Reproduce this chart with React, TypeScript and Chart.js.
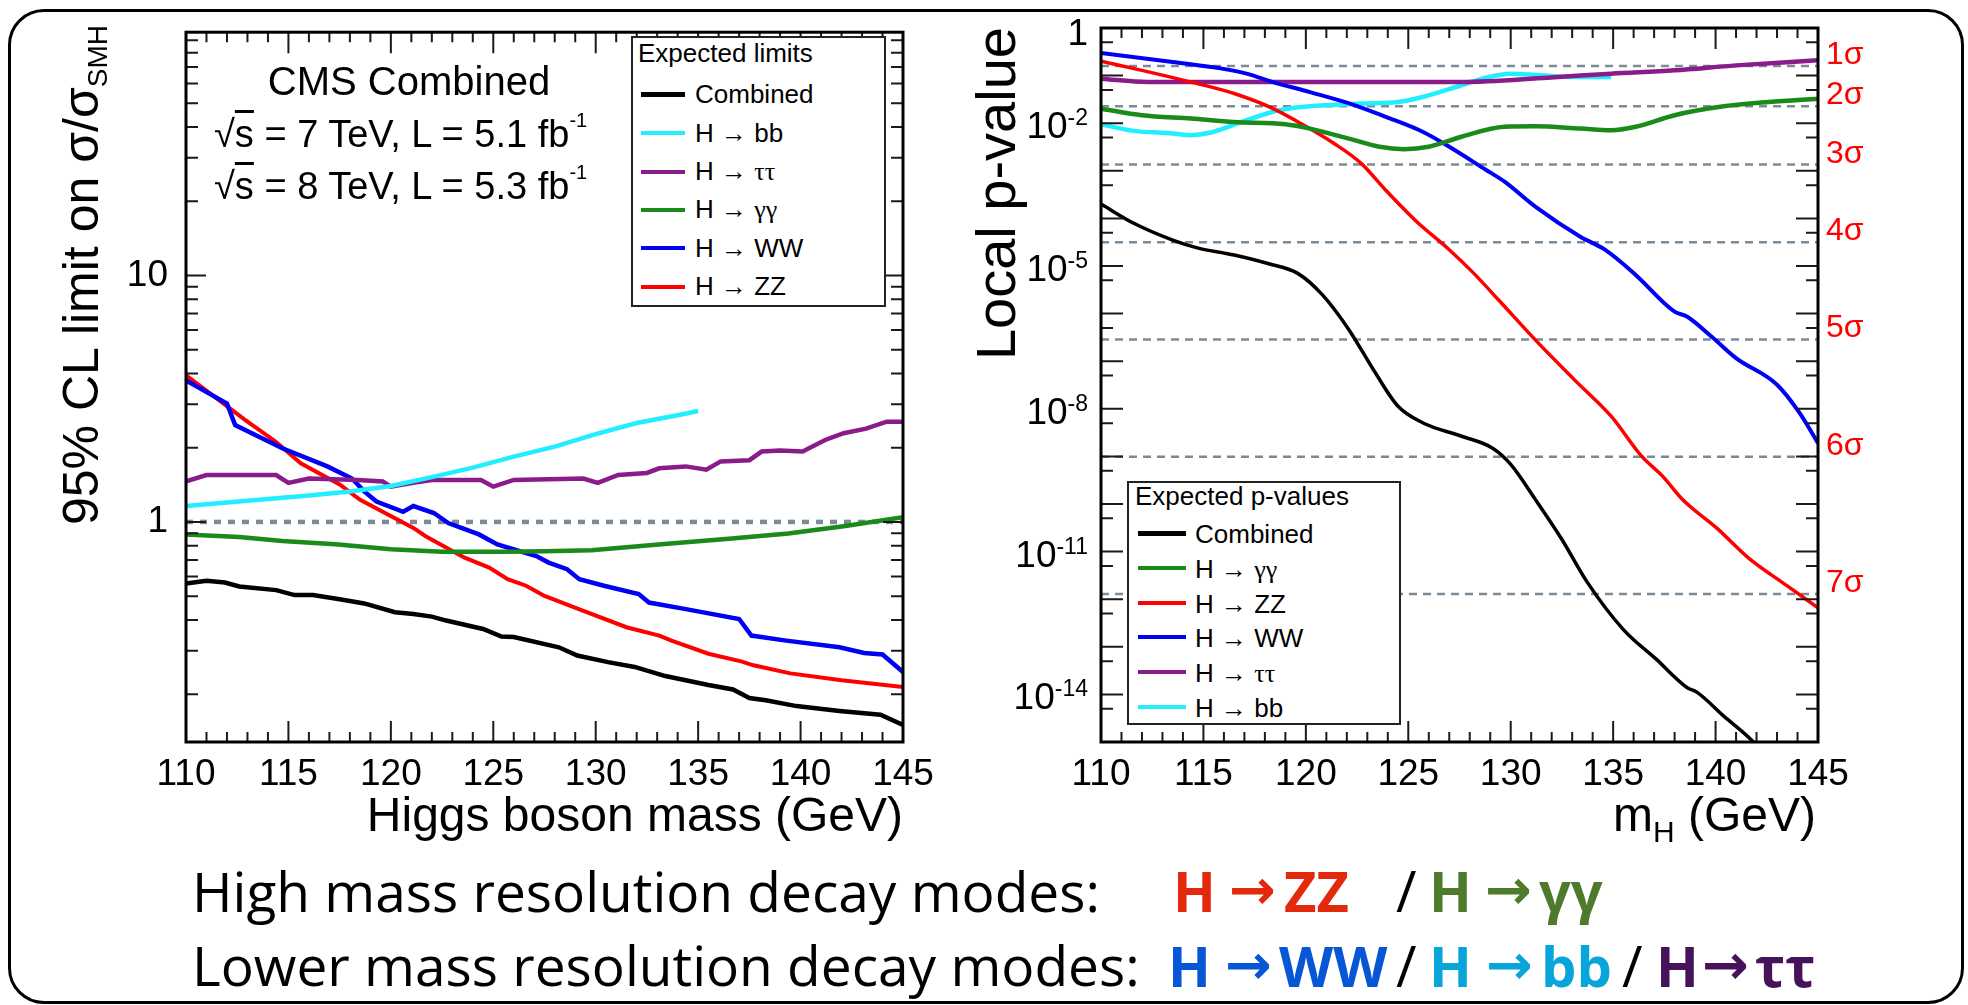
import React, { useEffect, useRef } from "react";
import { Chart, registerables } from "chart.js";
Chart.register(...registerables);

const FONT = "'Liberation Sans', Arial, Helvetica, sans-serif";
const SERIF = "'Liberation Serif', 'DejaVu Serif', serif";
const SLIDE = "'Open Sans', 'Noto Sans', sans-serif";
const ARROW = "'DejaVu Sans', sans-serif";

// ---------- shared x axis (Higgs boson mass, GeV) ----------
const massMin = 110;
const massMax = 145;
const massMajorTicks = [110, 115, 120, 125, 130, 135, 140, 145];
const massMinorTicks = [111, 112, 113, 114, 116, 117, 118, 119, 121, 122, 123, 124, 126, 127, 128, 129, 131, 132, 133, 134, 136, 137, 138, 139, 141, 142, 143, 144];

// ---------- left panel: expected 95% CL limits ----------
const limitAxisMin = 0.128;
const limitAxisMax = 97;
const limitMajorTicks = [1, 10];
const limitMinorTicks = [0.2, 0.3, 0.4, 0.5, 0.6, 0.7, 0.8, 0.9, 2, 3, 4, 5, 6, 7, 8, 9, 20, 30, 40, 50, 60, 70, 80, 90];
const smReferenceMass = [110, 145];
const smReference = [1, 1];

const limitCombinedMass = [110, 111, 111.9, 112.6, 114.4, 115.3, 116.2, 117.5, 118.7, 120.2, 121.1, 122, 122.7, 124.5, 125.4, 126, 128.2, 129.1, 130.6, 131.9, 133.4, 135.5, 136.7, 137.5, 138.3, 139.8, 141.9, 143.9, 145];
const limitCombined = [0.562, 0.577, 0.568, 0.547, 0.529, 0.505, 0.505, 0.486, 0.467, 0.43, 0.423, 0.413, 0.398, 0.368, 0.343, 0.341, 0.31, 0.287, 0.27, 0.258, 0.237, 0.218, 0.209, 0.193, 0.189, 0.179, 0.171, 0.165, 0.15];

const limitBBMass = [110, 112, 114, 116, 118, 120, 122, 124, 126, 128, 130, 132, 134, 135];
const limitBB = [1.16, 1.2, 1.24, 1.28, 1.33, 1.4, 1.52, 1.66, 1.84, 2.02, 2.27, 2.52, 2.71, 2.82];

const limitTTMass = [110, 111, 114.4, 115, 116, 118.4, 119.6, 120, 121.1, 122, 124.4, 125, 126, 129.4, 130.1, 131.1, 132.5, 133.1, 134.4, 135.4, 136.1, 137.5, 138.1, 139, 140.1, 141.2, 142.1, 143.2, 144.2, 145];
const limitTT = [1.46, 1.55, 1.55, 1.44, 1.5, 1.48, 1.46, 1.39, 1.44, 1.48, 1.48, 1.39, 1.48, 1.5, 1.44, 1.55, 1.58, 1.65, 1.68, 1.63, 1.76, 1.78, 1.93, 1.95, 1.93, 2.15, 2.29, 2.39, 2.55, 2.55];

const limitGGMass = [110, 112.6, 114.7, 117.3, 120, 122.5, 125.5, 127.5, 129.8, 131.5, 133.5, 136.5, 139.4, 142.1, 145];
const limitGG = [0.889, 0.868, 0.836, 0.811, 0.774, 0.757, 0.757, 0.76, 0.767, 0.79, 0.815, 0.855, 0.898, 0.961, 1.045];

const limitWWMass = [110, 112, 112.4, 114.7, 116.9, 118.1, 118.7, 119.3, 120.6, 121.1, 122.1, 122.8, 124.3, 125.2, 127.1, 127.7, 128.6, 129.2, 130.4, 132.1, 132.6, 134.4, 137, 137.6, 139.3, 141.9, 143.1, 144, 145];
const limitWW = [3.75, 3.02, 2.47, 1.99, 1.68, 1.5, 1.33, 1.21, 1.1, 1.16, 1.087, 0.99, 0.89, 0.81, 0.727, 0.684, 0.643, 0.586, 0.551, 0.51, 0.471, 0.443, 0.404, 0.346, 0.33, 0.31, 0.294, 0.29, 0.246];

const limitZZMass = [110, 111.3, 112.9, 114.4, 115.6, 117.5, 118.5, 119.6, 121.1, 121.7, 123.6, 124.8, 125.7, 126.6, 127.5, 129.4, 131.5, 133.1, 133.7, 135.5, 137.1, 137.7, 139.5, 142, 145];
const limitZZ = [3.93, 3.26, 2.59, 2.11, 1.73, 1.42, 1.23, 1.1, 0.946, 0.875, 0.716, 0.653, 0.586, 0.551, 0.501, 0.436, 0.374, 0.346, 0.33, 0.292, 0.272, 0.262, 0.243, 0.228, 0.214];

// ---------- right panel: expected local p-values ----------
const pAxisMin = 1e-15;
const pAxisMax = 1;
const pMajorTicks = [1, 1e-1, 1e-2, 1e-3, 1e-4, 1e-5, 1e-6, 1e-7, 1e-8, 1e-9, 1e-10, 1e-11, 1e-12, 1e-13, 1e-14, 1e-15];
const pMinorTicks = [5e-1, 5e-2, 5e-3, 5e-4, 5e-5, 5e-6, 5e-7, 5e-8, 5e-9, 5e-10, 5e-11, 5e-12, 5e-13, 5e-14, 5e-15];
const pLabelValues = [1, 1e-2, 1e-5, 1e-8, 1e-11, 1e-14];
const pLabelExponents = ["", "-2", "-5", "-8", "-11", "-14"];
const sigmaLabels = ["1σ", "2σ", "3σ", "4σ", "5σ", "6σ", "7σ"];
const sigmaPValues = [0.1587, 0.02275, 1.35e-3, 3.167e-5, 2.867e-7, 9.866e-10, 1.28e-12];

const pCombinedMass = [110, 111.6, 113.5, 114.7, 116.5, 118.1, 119.6, 120.8, 122.1, 123.3, 124.5, 125.7, 127.6, 129.1, 130, 131.2, 132.5, 133.7, 135.5, 137.1, 138.6, 139.1, 140.4, 141.8, 143, 145];
const pCombined = [2.0e-4, 7.9e-5, 3.5e-5, 2.4e-5, 1.7e-5, 1.14e-5, 7.0e-6, 2.5e-6, 4.6e-7, 6.6e-8, 1.13e-8, 5.1e-9, 2.65e-9, 1.5e-9, 6.8e-10, 1.25e-10, 1.8e-11, 2.4e-12, 2.3e-13, 5.5e-14, 1.4e-14, 1.1e-14, 3.5e-15, 1.05e-15, 2.5e-16, 2e-17];

const pGGMass = [110, 112, 114.4, 116.5, 119, 120.2, 122.1, 123.6, 124.8, 126, 127.6, 129.7, 131.2, 133.4, 134.9, 136.1, 138, 140.4, 142.6, 145];
const pGG = [0.0202, 0.0147, 0.0125, 0.0106, 9.5e-3, 7.7e-3, 4.75e-3, 3.2e-3, 2.85e-3, 3.2e-3, 5.2e-3, 8.4e-3, 8.6e-3, 7.7e-3, 7.1e-3, 8.4e-3, 0.0147, 0.0226, 0.0279, 0.0328];

const pZZMass = [110, 112, 114.4, 116.5, 118.4, 119.9, 121.4, 122.7, 123.9, 125.4, 127, 128.2, 129.4, 131.2, 133.1, 134.9, 136.4, 137.4, 138.4, 140.1, 141.6, 143.5, 145];
const pZZ = [0.2, 0.129, 0.073, 0.042, 0.0203, 9.1e-3, 3.7e-3, 1.43e-3, 3.9e-4, 8.6e-5, 2.2e-5, 7.0e-6, 1.95e-6, 2.8e-7, 4.1e-8, 7.0e-9, 1.0e-9, 3.9e-10, 1.23e-10, 3.0e-11, 7.4e-12, 1.9e-12, 6.6e-13];

const pWWMass = [110, 113.5, 115.9, 117.1, 118.4, 120.2, 122.4, 123.9, 125.7, 127, 128.8, 129.7, 131.2, 133.4, 134.6, 136.1, 138, 138.6, 139.8, 141, 143, 144.1, 145];
const pWW = [0.3, 0.193, 0.14, 0.11, 0.073, 0.045, 0.0238, 0.0136, 6.6e-3, 3.2e-3, 1.04e-3, 5.9e-4, 1.76e-4, 4.1e-5, 2.2e-5, 6.5e-6, 1.1e-6, 8.7e-7, 3.3e-7, 1.16e-7, 3.2e-8, 8.2e-9, 1.9e-9];

const pTTMass = [110, 112.3, 116.5, 122.7, 127.6, 131.8, 134.9, 138, 141, 145];
const pTT = [0.0863, 0.0735, 0.0735, 0.0735, 0.0735, 0.0906, 0.11, 0.129, 0.164, 0.21];

const pBBMass = [110, 111.6, 113.5, 114.4, 115.3, 117.1, 118.7, 120.2, 122.7, 124.5, 125.7, 127.6, 128.8, 130, 130.9, 132.8, 134.9];
const pBB = [9.5e-3, 6.9e-3, 6.1e-3, 5.6e-3, 6.3e-3, 0.0116, 0.0187, 0.0226, 0.0258, 0.0279, 0.0356, 0.0627, 0.0906, 0.11, 0.106, 0.0938, 0.0938];

// ---------- colours ----------
const C_COMB = "#000000";
const C_BB = "#22eeff";
const C_TT = "#8a1c8a";
const C_GG = "#1a8a1a";
const C_WW = "#0000f5";
const C_ZZ = "#ff0000";
const C_REF = "#7b8b97";

type Series = { label: string; color: string; width: number; mass: number[]; values: number[] };

const leftSeries: Series[] = [
  { label: "Combined", color: C_COMB, width: 4.5, mass: limitCombinedMass, values: limitCombined },
  { label: "H → bb", color: C_BB, width: 4.5, mass: limitBBMass, values: limitBB },
  { label: "H → ττ", color: C_TT, width: 4.5, mass: limitTTMass, values: limitTT },
  { label: "H → γγ", color: C_GG, width: 4.5, mass: limitGGMass, values: limitGG },
  { label: "H → WW", color: C_WW, width: 4.5, mass: limitWWMass, values: limitWW },
  { label: "H → ZZ", color: C_ZZ, width: 4, mass: limitZZMass, values: limitZZ },
];

const rightSeries: Series[] = [
  { label: "Combined", color: C_COMB, width: 3.5, mass: pCombinedMass, values: pCombined },
  { label: "H → γγ", color: C_GG, width: 4.5, mass: pGGMass, values: pGG },
  { label: "H → ZZ", color: C_ZZ, width: 3.5, mass: pZZMass, values: pZZ },
  { label: "H → WW", color: C_WW, width: 4, mass: pWWMass, values: pWW },
  { label: "H → ττ", color: C_TT, width: 4.5, mass: pTTMass, values: pTT },
  { label: "H → bb", color: C_BB, width: 4.5, mass: pBBMass, values: pBB },
];

const pts = (m: number[], v: number[]) => m.map((x, i) => ({ x, y: v[i] }));

type AxisCfg = {
  yMajor: number[];
  yMinor: number[];
  xMajorLen: number;
  xMinorLen: number;
  yMajorLen: number;
  yMinorLen: number;
  extra?: (chart: any) => void;
};

function rootAxesPlugin(cfg: AxisCfg) {
  return {
    id: "rootAxes",
    afterDatasetsDraw(chart: any) {
      const { ctx, chartArea: a } = chart;
      const xs = chart.scales.x;
      const ys = chart.scales.y;
      ctx.save();
      ctx.strokeStyle = "#1a1a1a";
      ctx.lineWidth = 2;
      ctx.beginPath();
      const xt = (vals: number[], len: number) => {
        for (const v of vals) {
          const p = xs.getPixelForValue(v);
          ctx.moveTo(p, a.bottom);
          ctx.lineTo(p, a.bottom - len);
          ctx.moveTo(p, a.top);
          ctx.lineTo(p, a.top + len);
        }
      };
      const yt = (vals: number[], len: number) => {
        for (const v of vals) {
          const p = ys.getPixelForValue(v);
          if (p < a.top - 0.5 || p > a.bottom + 0.5) continue;
          ctx.moveTo(a.left, p);
          ctx.lineTo(a.left + len, p);
          ctx.moveTo(a.right, p);
          ctx.lineTo(a.right - len, p);
        }
      };
      xt(massMajorTicks, cfg.xMajorLen);
      xt(massMinorTicks, cfg.xMinorLen);
      yt(cfg.yMajor, cfg.yMajorLen);
      yt(cfg.yMinor, cfg.yMinorLen);
      ctx.stroke();
      ctx.lineWidth = 3;
      ctx.strokeStyle = "#000";
      ctx.strokeRect(a.left, a.top, a.right - a.left, a.bottom - a.top);
      if (cfg.extra) cfg.extra(chart);
      ctx.restore();
    },
  };
}

function xScale() {
  return {
    type: "linear",
    min: massMin,
    max: massMax,
    grid: { display: false },
    border: { display: false },
    ticks: { font: { family: FONT, size: 37 }, color: "#000", padding: 3, maxRotation: 0, autoSkip: false },
    afterBuildTicks: (s: any) => {
      s.ticks = massMajorTicks.map((v) => ({ value: v }));
    },
    afterFit: (s: any) => {
      s.height = 60;
    },
  };
}

function leftConfig(): any {
  const datasets: any[] = leftSeries.map((s, i) => ({
    label: s.label,
    data: pts(s.mass, s.values),
    borderColor: s.color,
    borderWidth: s.width,
    pointRadius: 0,
    tension: 0,
    order: i + 1,
  }));
  datasets.push({
    label: "SM",
    data: pts(smReferenceMass, smReference),
    borderColor: C_REF,
    borderWidth: 4.5,
    borderDash: [7, 7],
    pointRadius: 0,
    order: 20,
  });
  return {
    type: "line",
    data: { datasets },
    options: {
      responsive: false,
      animation: false,
      layout: { padding: { left: 126, top: 28, right: 57, bottom: 58 } },
      plugins: { legend: { display: false }, tooltip: { enabled: false } },
      scales: {
        x: xScale(),
        y: {
          type: "logarithmic",
          min: limitAxisMin,
          max: limitAxisMax,
          grid: { display: false },
          border: { display: false },
          ticks: {
            font: { family: FONT, size: 37 },
            color: "#000",
            padding: 10,
            autoSkip: false,
            callback: (v: any) => String(v),
          },
          afterBuildTicks: (s: any) => {
            s.ticks = limitMajorTicks.map((v) => ({ value: v }));
          },
          afterFit: (s: any) => {
            s.width = 60;
          },
        },
      },
    },
    plugins: [
      rootAxesPlugin({
        yMajor: limitMajorTicks,
        yMinor: limitMinorTicks,
        xMajorLen: 21,
        xMinorLen: 10,
        yMajorLen: 20,
        yMinorLen: 12,
      }),
    ],
  };
}

function rightConfig(): any {
  const datasets: any[] = rightSeries.map((s, i) => ({
    label: s.label,
    data: pts(s.mass, s.values),
    borderColor: s.color,
    borderWidth: s.width,
    pointRadius: 0,
    cubicInterpolationMode: "monotone",
    order: i + 1,
  }));
  sigmaPValues.forEach((p, i) => {
    datasets.push({
      label: sigmaLabels[i],
      data: pts([massMin, massMax], [p, p]),
      borderColor: C_REF,
      borderWidth: 2.5,
      borderDash: [8, 6],
      pointRadius: 0,
      order: 20,
    });
  });
  const extra = (chart: any) => {
    const { ctx, chartArea: a } = chart;
    const ys = chart.scales.y;
    ctx.fillStyle = "#000";
    ctx.textBaseline = "alphabetic";
    ctx.textAlign = "right";
    const right = a.left - 13;
    pLabelValues.forEach((v, i) => {
      const py = ys.getPixelForValue(v);
      const ex = pLabelExponents[i];
      if (!ex) {
        ctx.font = `37px ${FONT}`;
        ctx.fillText("1", right, py + 17);
      } else {
        ctx.font = `23px ${FONT}`;
        const w = ctx.measureText(ex).width;
        ctx.fillText(ex, right, py + 2);
        ctx.font = `37px ${FONT}`;
        ctx.fillText("10", right - w, py + 15);
      }
    });
    ctx.fillStyle = "#ff0000";
    ctx.font = `32px ${FONT}`;
    ctx.textAlign = "left";
    sigmaPValues.forEach((p, i) => {
      ctx.fillText(sigmaLabels[i], a.right + 8, ys.getPixelForValue(p) - 2);
    });
  };
  return {
    type: "line",
    data: { datasets },
    options: {
      responsive: false,
      animation: false,
      layout: { padding: { left: 91, top: 28, right: 150, bottom: 58 } },
      plugins: { legend: { display: false }, tooltip: { enabled: false } },
      scales: {
        x: xScale(),
        y: {
          type: "logarithmic",
          min: pAxisMin,
          max: pAxisMax,
          grid: { display: false },
          border: { display: false },
          ticks: { display: false },
          afterFit: (s: any) => {
            s.width = 50;
          },
        },
      },
    },
    plugins: [
      rootAxesPlugin({
        yMajor: pMajorTicks,
        yMinor: pMinorTicks,
        xMajorLen: 21,
        xMinorLen: 10,
        yMajorLen: 22,
        yMinorLen: 12,
        extra,
      }),
    ],
  };
}

// ---------- HTML text helpers ----------
const K_LS = 0.8465;
const K_OS = 0.888;

function Txt(props: any) {
  const { x, base, size, family = FONT, color = "#000", weight = 400, k = K_LS, align = "left", width = 0, children } = props;
  const style: any = {
    position: "absolute",
    top: base - k * size,
    fontSize: size,
    lineHeight: `${size}px`,
    fontFamily: family,
    color,
    fontWeight: weight,
    whiteSpace: "nowrap",
  };
  if (align === "right") style.right = 1968 - x;
  else if (align === "center") {
    style.left = x - width / 2;
    style.width = width;
    style.textAlign = "center";
  } else style.left = x;
  return <div style={style}>{children}</div>;
}

function greek(label: string) {
  const parts = label.split(/([α-ω]+)/);
  return parts.map((p, i) =>
    /[α-ω]/.test(p) ? (
      <span key={i} style={{ fontFamily: SERIF }}>
        {p}
      </span>
    ) : (
      <span key={i}>{p}</span>
    )
  );
}

function Legend(props: any) {
  const { left, top, width, height, title, titleX, titleBase, items, firstBase, step, swX0, swX1, textX, swOffset } = props;
  return (
    <>
      <div
        style={{
          position: "absolute",
          left,
          top,
          width,
          height,
          boxSizing: "border-box",
          border: "2px solid #222",
          background: "#fff",
        }}
      />
      <Txt x={titleX} base={titleBase} size={26}>
        {title}
      </Txt>
      {items.map((s: Series, i: number) => {
        const b = firstBase + i * step;
        return (
          <React.Fragment key={s.label}>
            <div
              style={{
                position: "absolute",
                left: swX0,
                width: swX1 - swX0,
                top: b - swOffset - (s.label === "Combined" ? 2.5 : 2),
                height: s.label === "Combined" ? 5 : 4,
                background: s.color,
              }}
            />
            <Txt x={textX} base={b} size={26}>
              {greek(s.label)}
            </Txt>
          </React.Fragment>
        );
      })}
    </>
  );
}

const RED = "#e3290c";
const GREEN = "#4d7a2b";
const BLUE = "#0656d6";
const CYAN = "#08a5da";
const PURPLE = "#46125a";

const line1Pieces = [
  { t: "H", x: 1173, c: RED },
  { t: "→", x: 1229, c: RED, arrow: true },
  { t: "ZZ", x: 1284, c: RED },
  { t: "/", x: 1396, c: "#000", thin: true },
  { t: "H", x: 1429, c: GREEN },
  { t: "→", x: 1485, c: GREEN, arrow: true },
  { t: "γγ", x: 1539, c: GREEN },
];
const line2Pieces = [
  { t: "H", x: 1168, c: BLUE },
  { t: "→", x: 1225, c: BLUE, arrow: true },
  { t: "WW", x: 1279, c: BLUE },
  { t: "/", x: 1396, c: "#000", thin: true },
  { t: "H", x: 1429, c: CYAN },
  { t: "→", x: 1486, c: CYAN, arrow: true },
  { t: "bb", x: 1541, c: CYAN },
  { t: "/", x: 1622, c: "#000", thin: true },
  { t: "H", x: 1656, c: PURPLE },
  { t: "→", x: 1702, c: PURPLE, arrow: true },
  { t: "ττ", x: 1755, c: PURPLE },
];

function Pieces({ pieces, base }: any) {
  return (
    <>
      {pieces.map((p: any, i: number) => (
        <Txt
          key={i}
          x={p.x}
          base={base}
          size={56}
          k={K_OS}
          family={p.arrow ? ARROW : SLIDE}
          weight={p.thin ? 400 : 700}
          color={p.c}
        >
          {p.t}
        </Txt>
      ))}
    </>
  );
}

export default function App() {
  const leftRef = useRef<HTMLCanvasElement>(null);
  const rightRef = useRef<HTMLCanvasElement>(null);

  useEffect(() => {
    const c1 = new Chart(leftRef.current as HTMLCanvasElement, leftConfig());
    const c2 = new Chart(rightRef.current as HTMLCanvasElement, rightConfig());
    return () => {
      c1.destroy();
      c2.destroy();
    };
  }, []);

  const leftLegendItems = ["Combined", "H → bb", "H → ττ", "H → γγ", "H → WW", "H → ZZ"].map(
    (l) => leftSeries.find((s) => s.label === l) as Series
  );
  const rightLegendItems = ["Combined", "H → γγ", "H → ZZ", "H → WW", "H → ττ", "H → bb"].map(
    (l) => rightSeries.find((s) => s.label === l) as Series
  );

  const supStyle: any = { fontSize: 20, position: "relative", top: -20, lineHeight: "20px" };

  return (
    <div style={{ position: "absolute", left: 0, top: 0, width: 1968, height: 1005, background: "#fff", overflow: "hidden" }}>
      <div
        style={{
          position: "absolute",
          left: 8,
          top: 9,
          width: 1956,
          height: 995,
          boxSizing: "border-box",
          border: "3px solid #000",
          borderRadius: 36,
        }}
      />
      <canvas ref={leftRef} width={960} height={860} style={{ position: "absolute", left: 0, top: 0, width: 960, height: 860 }} />
      <canvas ref={rightRef} width={1008} height={860} style={{ position: "absolute", left: 960, top: 0, width: 1008, height: 860 }} />

      {/* left y title, rotated */}
      <div
        style={{
          position: "absolute",
          left: 56,
          top: 25 + 600,
          width: 600,
          textAlign: "right",
          transformOrigin: "0 0",
          transform: "rotate(-90deg)",
          fontFamily: FONT,
          fontSize: 50,
          lineHeight: "50px",
          whiteSpace: "nowrap",
        }}
      >
        95% CL limit on σ/σ<span style={{ fontSize: 28, position: "relative", top: 9, lineHeight: "28px" }}>SMH</span>
      </div>
      {/* right y title */}
      <div
        style={{
          position: "absolute",
          left: 968,
          top: 27 + 600,
          width: 600,
          textAlign: "right",
          transformOrigin: "0 0",
          transform: "rotate(-90deg)",
          fontFamily: FONT,
          fontSize: 56,
          lineHeight: "56px",
          whiteSpace: "nowrap",
        }}
      >
        Local p-value
      </div>

      <Txt x={903} base={832} size={48} align="right">
        Higgs boson mass (GeV)
      </Txt>
      <Txt x={1816} base={832} size={48} align="right">
        m<span style={{ fontSize: 30, position: "relative", top: 11, lineHeight: "30px" }}>H</span> (GeV)
      </Txt>

      <Txt x={409} base={95} size={40} align="center" width={420}>
        CMS Combined
      </Txt>
      <Txt x={214} base={147} size={38}>
        √<span style={{ textDecoration: "overline" }}>s</span> = 7 TeV, L = 5.1 fb<span style={supStyle}>-1</span>
      </Txt>
      <Txt x={214} base={199} size={38}>
        √<span style={{ textDecoration: "overline" }}>s</span> = 8 TeV, L = 5.3 fb<span style={supStyle}>-1</span>
      </Txt>

      <Legend
        left={631}
        top={36}
        width={255}
        height={271}
        title="Expected limits"
        titleX={638}
        titleBase={62}
        items={leftLegendItems}
        firstBase={103.3}
        step={38.35}
        swX0={641}
        swX1={685}
        textX={695}
        swOffset={8.5}
      />
      <Legend
        left={1127}
        top={481}
        width={274}
        height={244}
        title="Expected p-values"
        titleX={1135}
        titleBase={505}
        items={rightLegendItems}
        firstBase={543}
        step={34.8}
        swX0={1138}
        swX1={1186}
        textX={1195}
        swOffset={10}
      />

      <Txt x={192} base={912} size={55} k={K_OS} family={SLIDE}>
        High mass resolution decay modes:
      </Txt>
      <Txt x={192} base={986} size={55} k={K_OS} family={SLIDE}>
        Lower mass resolution decay modes:
      </Txt>
      <Pieces pieces={line1Pieces} base={912} />
      <Pieces pieces={line2Pieces} base={987} />
    </div>
  );
}
